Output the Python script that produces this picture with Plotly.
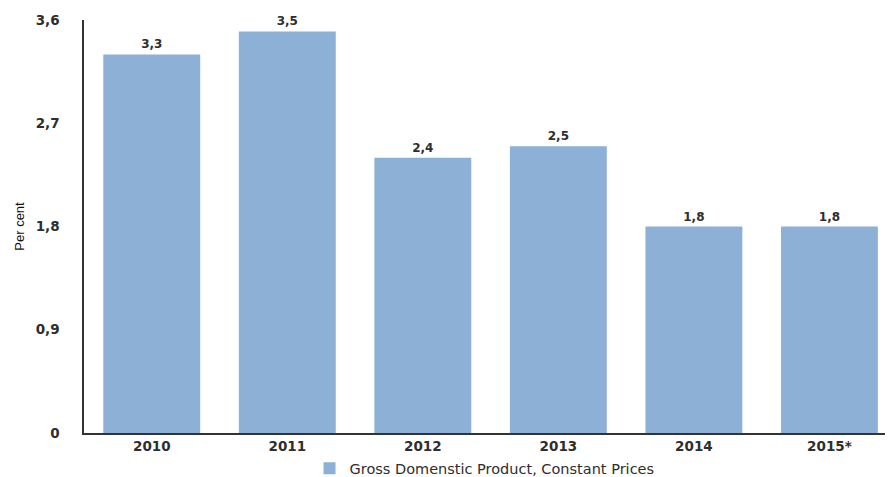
import plotly.graph_objects as go

# Annual GDP growth, constant prices (per cent)
years = ["2010", "2011", "2012", "2013", "2014", "2015*"]
growth = [3.3, 3.5, 2.4, 2.5, 1.8, 1.8]
series_name = "Gross Domenstic Product, Constant Prices"
y_title = "Per cent"

bar_color = "#8DB0D6"
axis_color = "#333333"
text_color = "#2e2e2e"
text_font = "DejaVu Sans, Verdana, sans-serif"
bold_font = dict(family=text_font, size=13.5, color=text_color, weight="bold")

fig = go.Figure(
    go.Bar(
        x=years,
        y=growth,
        name=series_name,
        marker=dict(color=bar_color, line=dict(width=0)),
        texttemplate="%{y:.1f}",
        textposition="outside",
        textfont=dict(family=text_font, size=12, color=text_color, weight="bold"),
        cliponaxis=False,
        showlegend=True,
    )
)

fig.update_layout(
    width=891,
    height=477,
    margin=dict(l=84, r=6, t=20, b=44),
    paper_bgcolor="white",
    plot_bgcolor="white",
    separators=",.",
    bargap=0.285,
    font=dict(family=text_font, size=13, color=text_color),
    legend=dict(
        orientation="h",
        x=0.5,
        xanchor="center",
        yref="container",
        y=0.018,
        yanchor="middle",
        font=dict(family=text_font, size=14.5, color=text_color),
    ),
    xaxis=dict(
        range=[-0.5, 5.41],
        showline=True,
        linecolor=axis_color,
        linewidth=1.5,
        ticks="",
        showgrid=False,
        tickfont=bold_font,
        automargin=False,
    ),
    yaxis=dict(
        range=[0, 3.6],
        dtick=0.9,
        tick0=0,
        showline=True,
        linecolor=axis_color,
        linewidth=1.5,
        ticks="",
        showgrid=False,
        zeroline=False,
        ticklabelstandoff=20,
        tickfont=bold_font,
        title=dict(
            text=y_title,
            standoff=8,
            font=dict(family="Liberation Sans Narrow, Liberation Sans, Arial, sans-serif", size=13, color="#111111"),
        ),
        automargin=False,
    ),
)

fig.write_html("out.html")
